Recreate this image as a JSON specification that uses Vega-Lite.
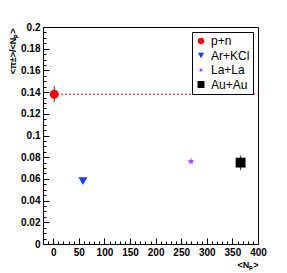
{
  "$schema": "https://vega.github.io/schema/vega-lite/v6.json",
  "width": 215,
  "height": 217,
  "autosize": {"type": "none"},
  "padding": {"left": 43, "top": 27, "right": 29, "bottom": 29},
  "background": "white",
  "config": {
    "font": "Liberation Sans",
    "view": {"stroke": "black", "strokeWidth": 1},
    "axis": {"grid": false, "domain": false, "tickColor": "black", "labelColor": "black", "titleColor": "black"}
  },
  "datasets": {
    "pts": [
      {"system": "p+n", "np": 2, "ratio": 0.138},
      {"system": "Ar+KCl", "np": 58, "ratio": 0.058},
      {"system": "La+La", "np": 269, "ratio": 0.076},
      {"system": "Au+Au", "np": 366, "ratio": 0.075}
    ],
    "errs": [
      {"system": "p+n", "np": 2, "lo": 0.1305, "hi": 0.1455},
      {"system": "Au+Au", "np": 366, "lo": 0.068, "hi": 0.0815}
    ],
    "ref": [
      {"x": 0, "x2": 400, "y": 0.138}
    ]
  },
  "resolve": {
    "scale": {"x": "independent", "y": "independent"},
    "axis": {"x": "independent", "y": "independent"}
  },
  "layer": [
    {
      "data": {"name": "ref"},
      "mark": {"type": "rule", "color": "#ff0000", "strokeWidth": 1, "strokeDash": [2, 2]},
      "encoding": {
        "x": {"field": "x", "type": "quantitative", "scale": {"domain": [-20, 400], "nice": false, "zero": false},
          "axis": {"orient": "bottom", "values": [-10, 10, 20, 30, 40, 60, 70, 80, 90, 110, 120, 130, 140, 160, 170, 180, 190, 210, 220, 230, 240, 260, 270, 280, 290, 310, 320, 330, 340, 360, 370, 380, 390], "tickSize": -3, "labels": false, "title": null}},
        "x2": {"field": "x2"},
        "y": {"field": "y", "type": "quantitative", "scale": {"domain": [0, 0.2], "nice": false, "zero": false},
          "axis": {"orient": "left", "values": [0.005, 0.01, 0.015, 0.025, 0.03, 0.035, 0.045, 0.05, 0.055, 0.065, 0.07, 0.075, 0.085, 0.09, 0.095, 0.105, 0.11, 0.115, 0.125, 0.13, 0.135, 0.145, 0.15, 0.155, 0.165, 0.17, 0.175, 0.185, 0.19, 0.195], "tickSize": -3, "labels": false, "title": null}}
      }
    },
    {
      "data": {"name": "errs"},
      "mark": {"type": "rule", "color": "#333333", "strokeWidth": 1},
      "encoding": {
        "x": {"field": "np", "type": "quantitative", "scale": {"domain": [-20, 400], "nice": false, "zero": false}, "axis": null},
        "y": {"field": "lo", "type": "quantitative", "scale": {"domain": [0, 0.2], "nice": false, "zero": false}, "axis": null},
        "y2": {"field": "hi"}
      }
    },
    {
      "data": {"name": "pts"},
      "mark": {"type": "point", "filled": true, "opacity": 1, "size": 80},
      "encoding": {
        "x": {"field": "np", "type": "quantitative", "scale": {"domain": [-20, 400], "nice": false, "zero": false},
          "axis": {"orient": "bottom", "values": [0, 50, 100, 150, 200, 250, 300, 350, 400], "tickSize": -6, "labelPadding": 9, "labelFontWeight": "bold", "labelFontSize": 10, "labelOverlap": false, "labelFlush": false,
            "title": "<Nₚ>", "titleFontSize": 9, "titleFontWeight": "bold", "titleAnchor": "end", "titleAlign": "right", "titleX": 215, "titleY": 20, "titleBaseline": "middle"}},
        "y": {"field": "ratio", "type": "quantitative", "scale": {"domain": [0, 0.2], "nice": false, "zero": false},
          "axis": {"orient": "left", "values": [0, 0.02, 0.04, 0.06, 0.08, 0.1, 0.12, 0.14, 0.16, 0.18, 0.2], "format": "~g", "tickSize": -6, "labelPadding": 9, "labelFontWeight": "bold", "labelFontSize": 10, "labelOverlap": false, "labelFlush": false,
            "title": "<π±>/<Nₚ>", "titleFontSize": 9, "titleFontWeight": "bold", "titleAngle": -90, "titleAlign": "right", "titleBaseline": "middle", "titleX": -31, "titleY": 1}},
        "shape": {"field": "system", "type": "nominal",
          "scale": {"domain": ["p+n", "Ar+KCl", "La+La", "Au+Au"], "range": ["circle", "triangle-down", "M0,-0.85L0.19,-0.263L0.808,-0.263L0.309,0.1L0.5,0.688L0,0.325L-0.5,0.688L-0.309,0.1L-0.808,-0.263L-0.19,-0.263Z", "M-1.1,-1.1L1.1,-1.1L1.1,1.1L-1.1,1.1Z"]},
          "legend": {"title": null, "orient": "none", "legendX": 149, "legendY": 5, "padding": 3, "rowPadding": 2.5, "labelFontSize": 12, "labelOffset": 4, "symbolSize": 40, "strokeColor": "black", "fillColor": "white", "symbolStrokeWidth": 0, "labelColor": "black"}},
        "color": {"field": "system", "type": "nominal",
          "scale": {"domain": ["p+n", "Ar+KCl", "La+La", "Au+Au"], "range": ["#ff0000", "#1a3cff", "#aa44ee", "#000000"]}}
      }
    }
  ]
}
